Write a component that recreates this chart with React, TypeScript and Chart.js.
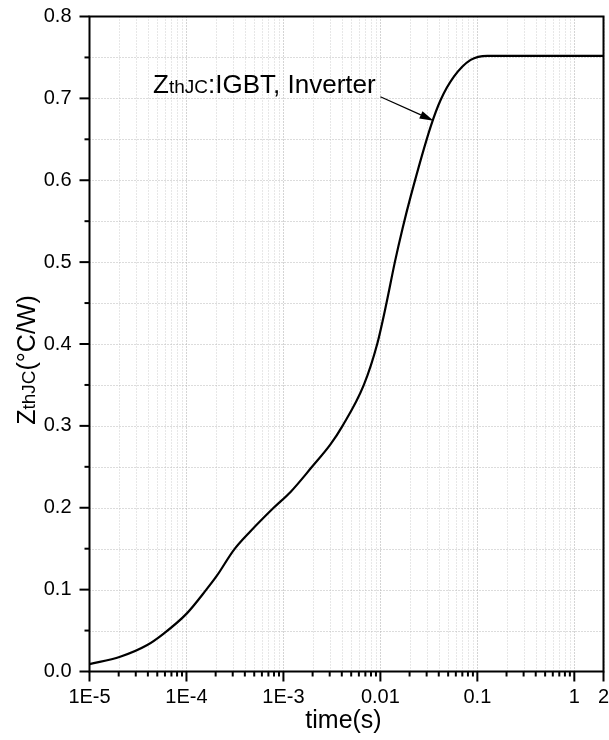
import React, { useEffect, useRef } from "react";
import { Chart, registerables } from "chart.js";

Chart.register(...registerables);

// ---- data ----
const TIME_S = [
  1e-5, 2.07e-5, 3.9e-5, 5.78e-5, 1.01e-4, 1.603e-4, 2.06e-4, 3.06e-4,
  4.55e-4, 7.93e-4, 1.178e-3, 1.972e-3, 3.04e-3, 4.07e-3, 6.75e-3, 9.27e-3,
  1.156e-2, 1.41e-2, 1.7e-2, 2.05e-2, 3.3e-2, 4.18e-2, 5.73e-2, 8.53e-2, 0.127, 0.2, 0.5, 2,
];
const ZTH_JC = [
  0.009, 0.018, 0.032, 0.046, 0.071, 0.1, 0.117, 0.148,
  0.171, 0.2, 0.219, 0.25, 0.277, 0.3, 0.35, 0.4,
  0.45, 0.5, 0.542, 0.58, 0.6655, 0.698, 0.7265, 0.747, 0.752, 0.752, 0.752, 0.752,
];

const X_TICKS = [1e-5, 1e-4, 1e-3, 0.01, 0.1, 1, 2];
const X_TICK_LABELS = ["1E-5", "1E-4", "1E-3", "0.01", "0.1", "1", "2"];
const X_DECADES = [1e-5, 1e-4, 1e-3, 0.01, 0.1, 1];
const X_MINOR_MULTS = [2, 3, 4, 5, 6, 7, 8, 9];
const Y_TICKS = [0, 0.1, 0.2, 0.3, 0.4, 0.5, 0.6, 0.7, 0.8];
const Y_MINOR = [0.05, 0.15, 0.25, 0.35, 0.45, 0.55, 0.65, 0.75];

const ANNOT_TEXT_AT = { t: 4.53e-5, v: 0.706 };
const ARROW_FROM = { t: 0.01, v: 0.702 };
const ARROW_TO = { t: 0.0354, v: 0.6728 };

const FONT = "'Liberation Sans', Arial, Helvetica, sans-serif";
const X_MAX = 2;

function drawParts(ctx: CanvasRenderingContext2D, parts: [string, number][], x: number, y: number, draw = true) {
  let cx = x;
  for (const [t, s] of parts) {
    ctx.font = `${s}px ${FONT}`;
    if (draw) ctx.fillText(t, cx, y);
    cx += ctx.measureText(t).width;
  }
  return cx - x;
}

const zeroPad = (s: any) => {
  s.paddingLeft = 0;
  s.paddingRight = 0;
  s.paddingTop = 0;
  s.paddingBottom = 0;
};

const decor = {
  id: "decor",
  beforeDatasetsDraw(chart: any) {
    const { ctx, chartArea: a, scales } = chart;
    const x = scales.x;
    const y = scales.y;
    ctx.save();
    ctx.lineWidth = 1;
    ctx.setLineDash([1, 2]);
    for (const d of X_DECADES) {
      const vals = [d, ...X_MINOR_MULTS.map((m) => m * d)];
      vals.forEach((v, i) => {
        if (v > X_MAX * 1.0001 || v <= 1e-5 * 1.0001) return;
        const px = Math.round(x.getPixelForValue(v)) + 0.5;
        ctx.strokeStyle = i === 0 ? "#a8a8a8" : "#cfcfcf";
        ctx.beginPath();
        ctx.moveTo(px, a.top);
        ctx.lineTo(px, a.bottom);
        ctx.stroke();
      });
    }
    for (const v of [...Y_TICKS, ...Y_MINOR]) {
      if (v <= 0 || v >= 0.8) continue;
      const py = Math.round(y.getPixelForValue(v)) + 0.5;
      ctx.strokeStyle = "#b8b8b8";
      ctx.beginPath();
      ctx.moveTo(a.left, py);
      ctx.lineTo(a.right, py);
      ctx.stroke();
    }
    ctx.restore();
  },
  afterDatasetsDraw(chart: any) {
    const { ctx, chartArea: a, scales } = chart;
    const x = scales.x;
    const y = scales.y;
    ctx.save();
    ctx.strokeStyle = "#000";
    ctx.lineWidth = 2;
    ctx.setLineDash([]);
    ctx.strokeRect(a.left, a.top, a.right - a.left, a.bottom - a.top);
    const tick = (x1: number, y1: number, x2: number, y2: number) => {
      ctx.beginPath();
      ctx.moveTo(x1, y1);
      ctx.lineTo(x2, y2);
      ctx.stroke();
    };
    for (const v of Y_TICKS) {
      const py = y.getPixelForValue(v);
      tick(a.left - 10, py, a.left, py);
    }
    for (const v of Y_MINOR) {
      const py = y.getPixelForValue(v);
      tick(a.left - 5, py, a.left, py);
    }
    for (const v of X_TICKS) {
      const px = x.getPixelForValue(v);
      tick(px, a.bottom, px, a.bottom + 10);
    }
    for (const d of X_DECADES) {
      for (const m of X_MINOR_MULTS) {
        const v = m * d;
        if (v >= X_MAX * 0.9999) continue;
        const px = x.getPixelForValue(v);
        tick(px, a.bottom, px, a.bottom + 5);
      }
    }
    ctx.restore();
  },
  afterDraw(chart: any) {
    const { ctx, chartArea: a, scales } = chart;
    const x = scales.x;
    const y = scales.y;
    ctx.save();
    ctx.fillStyle = "#000";
    ctx.textBaseline = "alphabetic";
    ctx.textAlign = "left";
    const xParts: [string, number][] = [["time(s)", 25]];
    const xw = drawParts(ctx, xParts, 0, 0, false);
    drawParts(ctx, xParts, (a.left + a.right) / 2 - 3 - xw / 2, a.bottom + 56.5);
    const yParts: [string, number][] = [["Z", 25], ["thJC", 19], ["(°C/W)", 25]];
    const yw = drawParts(ctx, yParts, 0, 0, false);
    ctx.save();
    ctx.translate(35, (a.top + a.bottom) / 2 + 16);
    ctx.rotate(-Math.PI / 2);
    drawParts(ctx, yParts, -yw / 2, 0);
    ctx.restore();
    const aParts: [string, number][] = [["Z", 26], ["thJC", 19], [":IGBT, Inverter", 26]];
    drawParts(ctx, aParts, x.getPixelForValue(ANNOT_TEXT_AT.t), y.getPixelForValue(ANNOT_TEXT_AT.v));
    const x1 = x.getPixelForValue(ARROW_FROM.t);
    const y1 = y.getPixelForValue(ARROW_FROM.v);
    const x2 = x.getPixelForValue(ARROW_TO.t);
    const y2 = y.getPixelForValue(ARROW_TO.v);
    const ang = Math.atan2(y2 - y1, x2 - x1);
    const hl = 14;
    const hw = 4;
    const bx = x2 - hl * Math.cos(ang);
    const by = y2 - hl * Math.sin(ang);
    ctx.strokeStyle = "#000";
    ctx.lineWidth = 1.2;
    ctx.beginPath();
    ctx.moveTo(x1, y1);
    ctx.lineTo(bx, by);
    ctx.stroke();
    ctx.beginPath();
    ctx.moveTo(x2, y2);
    ctx.lineTo(bx - hw * Math.sin(ang), by + hw * Math.cos(ang));
    ctx.lineTo(bx + hw * Math.sin(ang), by - hw * Math.cos(ang));
    ctx.closePath();
    ctx.fill();
    ctx.restore();
  },
};

export default function App() {
  const ref = useRef<HTMLCanvasElement | null>(null);
  useEffect(() => {
    if (!ref.current) return;
    const chart = new Chart(ref.current, {
      type: "line",
      data: {
        datasets: [
          {
            data: TIME_S.map((t, i) => ({ x: t, y: ZTH_JC[i] })),
            borderColor: "#000",
            borderWidth: 2.2,
            pointRadius: 0,
            fill: false,
            cubicInterpolationMode: "monotone",
          },
        ],
      },
      options: {
        animation: false,
        responsive: false,
        devicePixelRatio: 1,
        layout: { padding: { top: 16.5, right: 5.5, left: 0, bottom: 0 } },
        plugins: { legend: { display: false }, tooltip: { enabled: false } },
        scales: {
          x: {
            type: "logarithmic",
            min: 1e-5,
            max: X_MAX,
            afterBuildTicks: (s: any) => {
              s.ticks = X_TICKS.map((v) => ({ value: v }));
            },
            afterFit: (s: any) => {
              s.height = 68.5;
              zeroPad(s);
            },
            grid: { display: false, drawTicks: false, tickLength: 0 },
            border: { display: false },
            ticks: {
              autoSkip: false,
              maxRotation: 0,
              minRotation: 0,
              padding: 14,
              color: "#000",
              font: { family: FONT, size: 20 },
              callback: (_v: any, i: number) => X_TICK_LABELS[i],
            },
          },
          y: {
            type: "linear",
            min: 0,
            max: 0.8,
            afterBuildTicks: (s: any) => {
              s.ticks = Y_TICKS.map((v) => ({ value: v }));
            },
            afterFit: (s: any) => {
              s.width = 89.5;
              zeroPad(s);
            },
            grid: { display: false, drawTicks: false, tickLength: 0 },
            border: { display: false },
            ticks: {
              padding: 18,
              color: "#000",
              font: { family: FONT, size: 20 },
              callback: (v: any) => Number(v).toFixed(1),
            },
          },
        },
      },
      plugins: [decor],
    } as any);
    return () => chart.destroy();
  }, []);
  return (
    <div style={{ position: "absolute", left: 0, top: 0, width: 609, height: 740, background: "#fff" }}>
      <canvas ref={ref} width={609} height={740} style={{ display: "block" }} />
    </div>
  );
}
